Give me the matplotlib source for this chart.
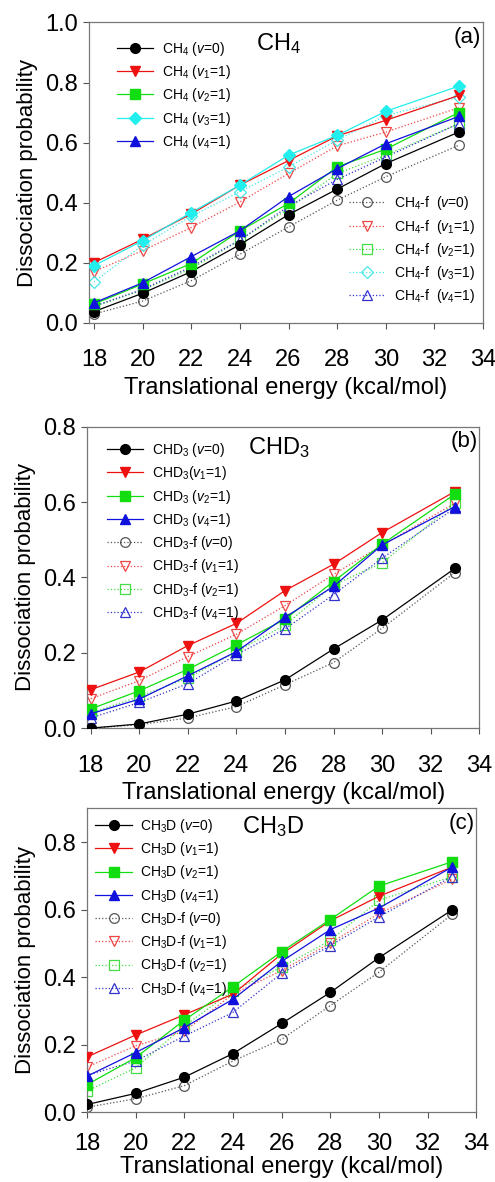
import numpy as np
import matplotlib
matplotlib.use("Agg")
import matplotlib.pyplot as plt

plt.rcParams['font.family'] = ['Liberation Sans', 'DejaVu Sans']
plt.rcParams['mathtext.fontset'] = 'custom'
plt.rcParams['mathtext.rm'] = 'Liberation Sans'
plt.rcParams['mathtext.it'] = 'Liberation Sans:italic'

energy = [18, 20, 22, 24, 26, 28, 30, 33]

# panel (a) CH4
ch4_v0 = [0.037, 0.098, 0.170, 0.260, 0.360, 0.445, 0.530, 0.635]
ch4_v1 = [0.200, 0.278, 0.362, 0.458, 0.540, 0.622, 0.674, 0.757]
ch4_v2 = [0.062, 0.129, 0.197, 0.306, 0.397, 0.519, 0.578, 0.700]
ch4_v3 = [0.190, 0.273, 0.367, 0.458, 0.558, 0.624, 0.704, 0.788]
ch4_v4 = [0.066, 0.133, 0.220, 0.306, 0.420, 0.513, 0.596, 0.687]
ch4f_v0 = [0.029, 0.072, 0.140, 0.228, 0.319, 0.408, 0.486, 0.591]
ch4f_v1 = [0.170, 0.240, 0.317, 0.402, 0.497, 0.589, 0.635, 0.716]
ch4f_v2 = [0.053, 0.109, 0.180, 0.275, 0.380, 0.497, 0.558, 0.663]
ch4f_v3 = [0.136, 0.258, 0.355, 0.436, 0.519, 0.608, 0.690, 0.752]
ch4f_v4 = [0.055, 0.111, 0.186, 0.275, 0.388, 0.477, 0.552, 0.663]

# panel (b) CHD3
chd3_v0 = [0.000, 0.011, 0.037, 0.072, 0.128, 0.210, 0.287, 0.424]
chd3_v1 = [0.102, 0.149, 0.219, 0.278, 0.365, 0.435, 0.519, 0.628]
chd3_v2 = [0.051, 0.099, 0.156, 0.221, 0.289, 0.389, 0.488, 0.621]
chd3_v4 = [0.038, 0.077, 0.139, 0.203, 0.294, 0.376, 0.486, 0.588]
chd3f_v0 = [0.000, 0.009, 0.027, 0.057, 0.115, 0.174, 0.265, 0.413]
chd3f_v1 = [0.078, 0.126, 0.190, 0.249, 0.325, 0.408, 0.485, 0.597]
chd3f_v2 = [0.040, 0.084, 0.133, 0.203, 0.274, 0.380, 0.438, 0.597]
chd3f_v4 = [0.027, 0.068, 0.118, 0.195, 0.263, 0.354, 0.451, 0.584]

# panel (c) CH3D
ch3d_v0 = [0.023, 0.056, 0.104, 0.174, 0.263, 0.355, 0.458, 0.599]
ch3d_v1 = [0.164, 0.229, 0.289, 0.350, 0.469, 0.567, 0.640, 0.726]
ch3d_v2 = [0.082, 0.162, 0.273, 0.372, 0.476, 0.571, 0.670, 0.742]
ch3d_v4 = [0.107, 0.177, 0.251, 0.335, 0.447, 0.541, 0.605, 0.726]
ch3df_v0 = [0.015, 0.040, 0.079, 0.152, 0.216, 0.316, 0.415, 0.586]
ch3df_v1 = [0.134, 0.197, 0.240, 0.350, 0.420, 0.501, 0.589, 0.690]
ch3df_v2 = [0.063, 0.132, 0.256, 0.360, 0.430, 0.509, 0.628, 0.698]
ch3df_v4 = [0.110, 0.152, 0.226, 0.296, 0.412, 0.494, 0.579, 0.698]

BLACK, RED, GREEN, CYAN, BLUE = 'black', '#ee1111', '#11dd11', '#22eeee', '#1111dd'
FCOL = {'k': '#555555', 'r': '#ee4444', 'g': '#44dd44', 'c': '#44e8e8', 'b': '#3333cc'}

fig = plt.figure(figsize=(4.95, 11.82), dpi=100)


def setup(ax, ylim, yticks, xlim, xpad=15, lpad=4):
    ax.set_xlim(*xlim)
    ax.set_ylim(*ylim)
    ax.set_xticks(np.arange(18, 35, 2))
    ax.set_yticks(yticks)
    ax.set_yticklabels([f"{t:.1f}" for t in yticks])
    ax.tick_params(direction='out', length=4, width=0.8, labelsize=17, color='#555555')
    ax.tick_params(axis='x', pad=xpad)
    ax.tick_params(axis='y', pad=4)
    for s in ax.spines.values():
        s.set_color('#777777')
        s.set_linewidth(0.9)
    ax.set_xlabel('Translational energy (kcal/mol)', fontsize=17, labelpad=lpad)
    ax.set_ylabel('Dissociation probability', fontsize=16, labelpad=5)


def filled(ax, y, color, marker, label):
    return ax.plot(energy, y, color=color, lw=0.9, marker=marker, ms=7,
                   mfc=color, mec=color, label=label, zorder=3)[0]


def hollow(ax, y, color, marker, label):
    return ax.plot(energy, y, color=color, lw=0.9, ls=':', marker=marker, ms=7,
                   mfc='none', mec=color, mew=0.9, label=label, zorder=2)[0]


legkw = dict(frameon=False, fontsize=10, handlelength=2.6, handletextpad=0.6,
             labelspacing=0.38, borderaxespad=0.2)

# ---- panel (a)
ax = fig.add_axes([0.180, 0.727, 0.796, 0.254])
fa = [hollow(ax, ch4f_v0, FCOL['k'], 'o', 'CH$_4$-f  ($v$=0)'),
      hollow(ax, ch4f_v1, FCOL['r'], 'v', 'CH$_4$-f  ($v_1$=1)'),
      hollow(ax, ch4f_v2, FCOL['g'], 's', 'CH$_4$-f  ($v_2$=1)'),
      hollow(ax, ch4f_v3, FCOL['c'], 'D', 'CH$_4$-f  ($v_3$=1)'),
      hollow(ax, ch4f_v4, FCOL['b'], '^', 'CH$_4$-f  ($v_4$=1)')]
ha = [filled(ax, ch4_v0, BLACK, 'o', 'CH$_4$ ($v$=0)'),
      filled(ax, ch4_v1, RED, 'v', 'CH$_4$ ($v_1$=1)'),
      filled(ax, ch4_v2, GREEN, 's', 'CH$_4$ ($v_2$=1)'),
      filled(ax, ch4_v3, CYAN, 'D', 'CH$_4$ ($v_3$=1)'),
      filled(ax, ch4_v4, BLUE, '^', 'CH$_4$ ($v_4$=1)')]
fa[3].set_markersize(6)
ha[3].set_markersize(6)
setup(ax, (0, 1.0), np.arange(0, 1.01, 0.2), (17.8, 34))
leg1 = ax.legend(handles=ha, loc='upper left', bbox_to_anchor=(0.05, 0.97), **legkw)
ax.add_artist(leg1)
ax.legend(handles=fa, loc='lower right', bbox_to_anchor=(1.0, 0.03), **legkw)
ax.text(0.48, 0.93, 'CH$_4$', transform=ax.transAxes, fontsize=17, ha='center', va='center')
ax.text(0.995, 0.95, '(a)', transform=ax.transAxes, fontsize=16, ha='right', va='center')

# ---- panel (b)
ax = fig.add_axes([0.176, 0.384, 0.792, 0.255])
hb = [filled(ax, chd3_v0, BLACK, 'o', 'CHD$_3$ ($v$=0)'),
      filled(ax, chd3_v1, RED, 'v', 'CHD$_3$($v_1$=1)'),
      filled(ax, chd3_v2, GREEN, 's', 'CHD$_3$ ($v_2$=1)'),
      filled(ax, chd3_v4, BLUE, '^', 'CHD$_3$ ($v_4$=1)'),
      hollow(ax, chd3f_v0, FCOL['k'], 'o', 'CHD$_3$-f ($v$=0)'),
      hollow(ax, chd3f_v1, FCOL['r'], 'v', 'CHD$_3$-f ($v_1$=1)'),
      hollow(ax, chd3f_v2, FCOL['g'], 's', 'CHD$_3$-f ($v_2$=1)'),
      hollow(ax, chd3f_v4, FCOL['b'], '^', 'CHD$_3$-f ($v_4$=1)')]
setup(ax, (0, 0.8), np.arange(0, 0.81, 0.2), (17.85, 34))
ax.legend(handles=hb, loc='upper left', bbox_to_anchor=(0.03, 0.98), **legkw)
ax.text(0.49, 0.93, 'CHD$_3$', transform=ax.transAxes, fontsize=17, ha='center', va='center')
ax.text(0.997, 0.95, '(b)', transform=ax.transAxes, fontsize=16, ha='right', va='center')

# ---- panel (c)
ax = fig.add_axes([0.176, 0.059, 0.786, 0.257])
hc = [filled(ax, ch3d_v0, BLACK, 'o', 'CH$_3$D ($v$=0)'),
      filled(ax, ch3d_v1, RED, 'v', 'CH$_3$D ($v_1$=1)'),
      filled(ax, ch3d_v2, GREEN, 's', 'CH$_3$D ($v_2$=1)'),
      filled(ax, ch3d_v4, BLUE, '^', 'CH$_3$D ($v_4$=1)'),
      hollow(ax, ch3df_v0, FCOL['k'], 'o', 'CH$_3$D-f ($v$=0)'),
      hollow(ax, ch3df_v1, FCOL['r'], 'v', 'CH$_3$D-f ($v_1$=1)'),
      hollow(ax, ch3df_v2, FCOL['g'], 's', 'CH$_3$D-f ($v_2$=1)'),
      hollow(ax, ch3df_v4, FCOL['b'], '^', 'CH$_3$D-f ($v_4$=1)')]
setup(ax, (0, 0.9), np.arange(0, 0.81, 0.2), (18, 34), xpad=11, lpad=1)
ax.legend(handles=hc, loc='upper left', bbox_to_anchor=(0.0, 1.0), **legkw)
ax.text(0.478, 0.94, 'CH$_3$D', transform=ax.transAxes, fontsize=17, ha='center', va='center')
ax.text(0.997, 0.95, '(c)', transform=ax.transAxes, fontsize=16, ha='right', va='center')

fig.savefig('out.png', dpi=100)
